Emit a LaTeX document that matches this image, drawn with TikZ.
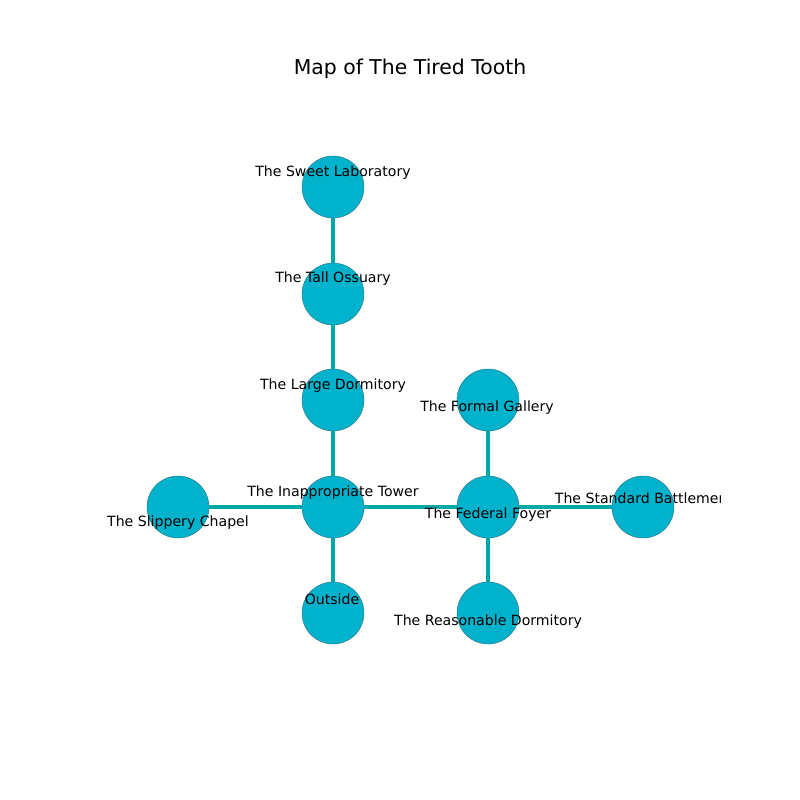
\documentclass[tikz,border=0pt]{standalone}
\usepackage{fontspec}
\setmainfont{DejaVu Sans}
\definecolor{nodefill}{RGB}{0,178,204}
\definecolor{nodeedge}{RGB}{40,110,120}
\definecolor{edgecol}{RGB}{0,168,168}
\begin{document}
\begin{tikzpicture}[x=1pt,y=-1pt,
  room/.style={circle,fill=nodefill,draw=nodeedge,line width=0.4pt,minimum size=62pt,inner sep=0pt},
  link/.style={draw=edgecol,line width=4.2pt},
  lbl/.style={font=\fontsize{14.1}{16}\selectfont,inner sep=0pt,text=black},
  ttl/.style={font=\fontsize{20.4}{24}\selectfont,inner sep=0pt}]
\useasboundingbox (0,0) rectangle (800,800);
\fill[white] (0,0) rectangle (800,800);
\node[ttl] (title) at (410,69) {Map of The Tired Tooth};
\begin{scope}
\clip (100,96) rectangle (720,712);
\node[room] (sweet) at (333,187) {};
\node[room] (tall) at (333,294) {};
\node[room] (large) at (333,400) {};
\node[room] (tower) at (333,507) {};
\node[room] (outside) at (333,613) {};
\node[room] (chapel) at (178,507) {};
\node[room] (foyer) at (488,507) {};
\node[room] (gallery) at (488,400) {};
\node[room] (reason) at (488,613) {};
\node[room] (battle) at (643,507) {};
\path[link] (sweet) -- (tall);
\path[link] (tall) -- (large);
\path[link] (large) -- (tower);
\path[link] (tower) -- (outside);
\path[link] (tower) -- (chapel);
\path[link] (tower) -- (foyer);
\path[link] (foyer) -- (gallery);
\path[link] (foyer) -- (reason);
\path[link] (foyer) -- (battle);
\node[lbl] (l1) at (333,173) {The Sweet Laboratory};
\node[lbl] (l2) at (333,279) {The Tall Ossuary};
\node[lbl] (l3) at (333,386) {The Large Dormitory};
\node[lbl] (l4) at (333,493) {The Inappropriate Tower};
\node[lbl] (l5) at (332,599) {Outside};
\node[lbl] (l6) at (178,523) {The Slippery Chapel};
\node[lbl] (l7) at (488,515) {The Federal Foyer};
\node[lbl] (l8) at (487,408) {The Formal Gallery};
\node[lbl] (l9) at (488,622) {The Reasonable Dormitory};
\node[lbl] (l10) at (644,498) {The Standard Battlement};
\end{scope}
\end{tikzpicture}
\end{document}
